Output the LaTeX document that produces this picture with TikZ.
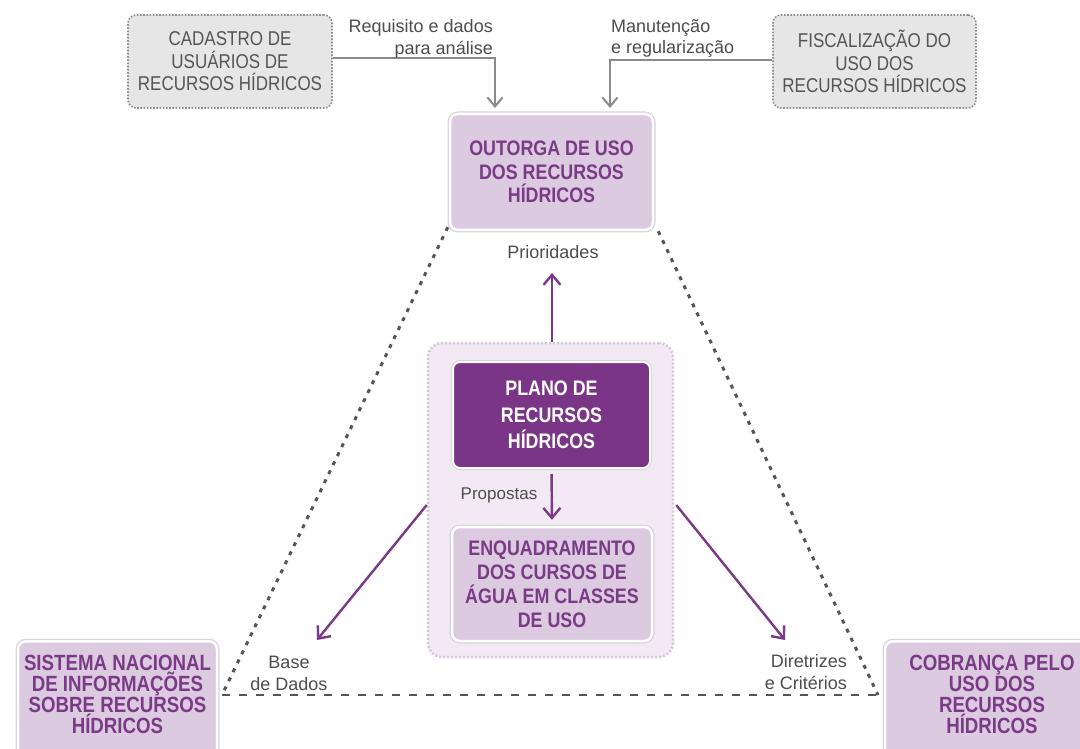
\documentclass[tikz,border=0pt]{standalone}
\usepackage{fontspec}
\setmainfont{Liberation Sans}
\newfontfamily\condf{Liberation Sans}[FakeStretch=0.85]
\usetikzlibrary{arrows.meta,calc}
\definecolor{ptext}{HTML}{7A3A86}
\definecolor{plight}{HTML}{DCCBE0}
\definecolor{pdark}{HTML}{7B3586}
\definecolor{cfill}{HTML}{F3E9F4}
\definecolor{cline}{HTML}{D6C4DA}
\definecolor{gfill}{HTML}{E6E6E6}
\definecolor{gline}{HTML}{8C8C8C}
\definecolor{gtext}{HTML}{555555}
\definecolor{ltext}{HTML}{4D4D4D}
\definecolor{garrow}{HTML}{8A8A8A}
\definecolor{dline}{HTML}{555555}
\definecolor{shade}{HTML}{D9D2DB}
\tikzset{
  graybox/.style={rounded corners=8, fill=gfill, draw=gline, line width=1.6pt,
    dash pattern=on 1.6pt off 1.6pt, inner sep=0pt, align=center, text=gtext,
    font=\condf\fontsize{20}{22.5}\selectfont},
  lightbox/.style={rounded corners=8, fill=plight, draw=white, line width=2.5pt,
    preaction={draw=shade, line width=5pt}, inner sep=0pt, align=center, text=ptext,
    font=\condf\bfseries\fontsize{21}{23.5}\selectfont},
  darkbox/.style={rounded corners=7, fill=pdark, draw=white, line width=2pt,
    preaction={draw=shade, line width=4pt}, inner sep=0pt, align=center, text=white,
    font=\condf\bfseries\fontsize{21}{26.5}\selectfont},
  contbox/.style={rounded corners=14, fill=cfill, draw=cline, line width=2.5pt,
    dash pattern=on 2pt off 2pt, inner sep=0pt},
  btext/.style={inner sep=0pt, align=center, text=ptext,
    font=\condf\bfseries\fontsize{22}{21.2}\selectfont},
  lbl/.style={inner sep=0pt, text=ltext, font=\fontsize{18}{21.5}\selectfont},
  garr/.style={draw=garrow, line width=2pt, -{Straight Barb[length=9pt,width=15pt,line width=2pt]}},
  parr/.style={draw=ptext, line width=2.4pt, -{Straight Barb[length=10pt,width=17pt,line width=2.4pt]}},
  dotl/.style={draw=dline, line width=3pt, dash pattern=on 4pt off 6pt},
  dashl/.style={draw=dline, line width=2.4pt, dash pattern=on 8pt off 9pt},
}
\begin{document}
\begin{tikzpicture}[x=1pt,y=-1pt]
\useasboundingbox[fill=white] (0,0) rectangle (1080,749);

% dotted triangle
\coordinate (L) at (222,695);
\coordinate (R) at (878,695);

% top gray boxes
\node[graybox, minimum width=204, minimum height=93] (cad) at (230,61.5)
  {CADASTRO DE\\USUÁRIOS DE\\RECURSOS HÍDRICOS};
\node[graybox, minimum width=203, minimum height=93] (fis) at (874.5,61.5)
  {FISCALIZAÇÃO DO\\USO DOS\\RECURSOS HÍDRICOS};

% outorga
\node[lightbox, minimum width=203, minimum height=116] (out) at (551.5,172)
  {OUTORGA DE USO\\DOS RECURSOS\\HÍDRICOS};

\draw[dotl] ($(out.south west)+(-1,-4)$) -- (L);
\draw[dotl] ($(out.south east)+(4,0)$) -- (R);
\draw[dashl] (L) -- (R);

% bottom boxes
\node[lightbox, minimum width=199, minimum height=130, anchor=north] (sis) at (117.5,640) {};
\node[btext] (sistxt) at (117.5,694.5)
  {SISTEMA NACIONAL\\DE INFORMAÇÕES\\SOBRE RECURSOS\\HÍDRICOS};
\node[lightbox, minimum width=214, minimum height=130, anchor=north] (cob) at (992,640) {};
\node[btext] (cobtxt) at (992,694.5)
  {COBRANÇA PELO\\USO DOS\\RECURSOS\\HÍDRICOS};

% container
\node[contbox, minimum width=245, minimum height=314] (cont) at (550.5,500) {};
\node[darkbox, minimum width=197, minimum height=106] (plano) at (551.5,415)
  {PLANO DE\\RECURSOS\\HÍDRICOS};
\node[lightbox, minimum width=200, minimum height=114,
  font=\condf\bfseries\fontsize{21}{24}\selectfont] (enq) at (552,584)
  {ENQUADRAMENTO\\DOS CURSOS DE\\ÁGUA EM CLASSES\\DE USO};

% gray arrows
\coordinate (t1) at (495,108);
\coordinate (t2) at (610,108);
\draw[garr] ([yshift=3.5]cad.east) -| (t1);
\draw[garr] ([yshift=1.5]fis.west) -| (t2);
\node[lbl, align=right, anchor=east] (l1) at (493,39) {Requisito e dados\\para análise};
\node[lbl, align=left, anchor=west] (l2) at (611,38.5) {Manutenção\\e regularização};

% purple arrows
\coordinate (pt) at (552,273);
\draw[parr] ([xshift=1.5]cont.north) -- (pt);
\node[lbl] (prio) at (553,252) {Prioridades};

\draw[parr, shorten <=5pt, shorten >=6pt] (plano.south) -- (enq.north);
\node[lbl, font=\fontsize{17}{21}\selectfont] (prop) at (499,495) {Propostas};

\coordinate (bt) at (317,640);
\coordinate (dt) at (785,640);
\draw[parr] ($(cont.west)+(0,5)$) -- (bt);
\draw[parr] ($(cont.east)+(2,5)$) -- (dt);
\node[lbl, align=center] (base) at (289,673.5) {Base\\de Dados};
\node[lbl, align=right, anchor=east] (dir) at (847,672) {Diretrizes\\e Critérios};
\end{tikzpicture}
\end{document}
